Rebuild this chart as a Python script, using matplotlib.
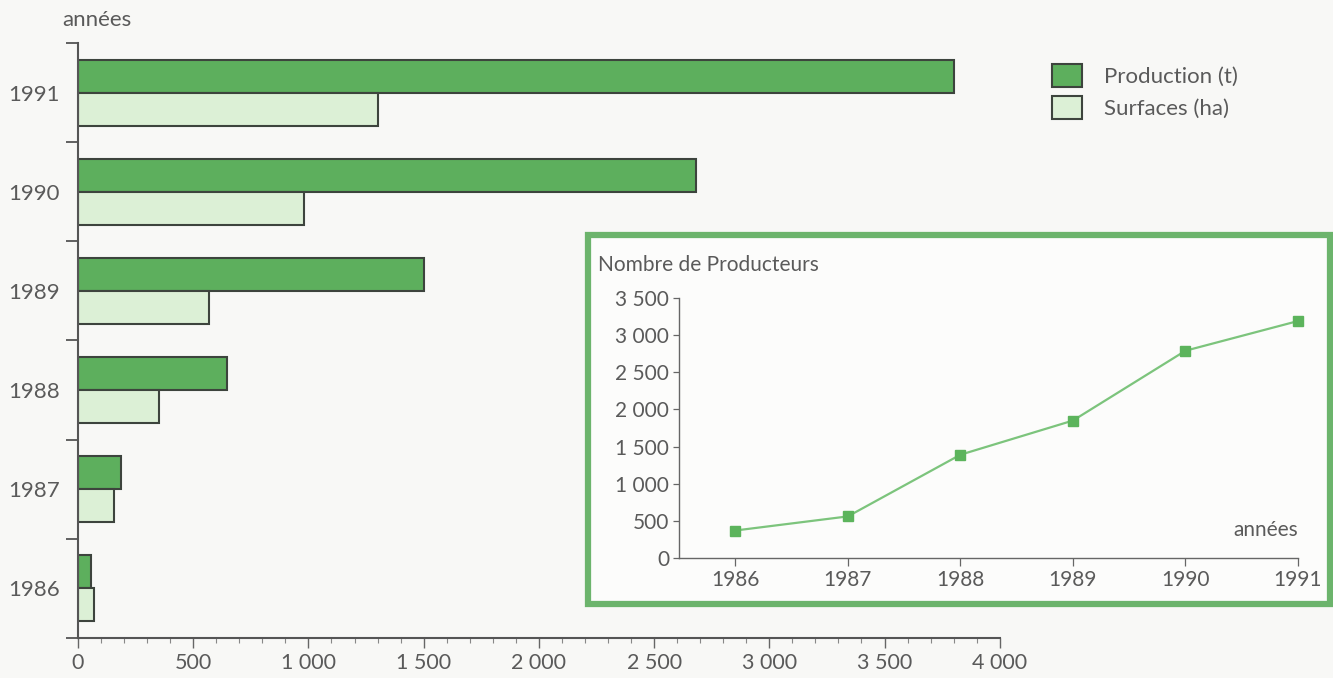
import matplotlib.pyplot as plt
import matplotlib.patches as mpatches
from matplotlib.ticker import FuncFormatter, MultipleLocator
import numpy as np

plt.rcParams['font.family'] = ['Lato', 'DejaVu Sans']

# main chart data
annees = [1986, 1987, 1988, 1989, 1990, 1991]
production_t = [55, 185, 645, 1500, 2680, 3800]
surfaces_ha = [70, 155, 350, 570, 980, 1300]

# inset: number of producers
annees_prod = [1986, 1987, 1988, 1989, 1990, 1991]
nb_producteurs = [370, 560, 1390, 1850, 2790, 3190]

dark_green = '#5daf5d'
light_green = '#dcf0d6'
edge = '#3d443d'
txt = '#5a5a5a'
bg = '#f8f8f6'


def fmt_space(v, pos=None):
    return f"{int(v):,}".replace(",", " ")


fig = plt.figure(figsize=(13.33, 6.78), dpi=100)
fig.patch.set_facecolor(bg)

ax = fig.add_axes([0.0585, 0.059, 0.6915, 0.8776])
ax.set_facecolor('none')

ypos = np.arange(len(annees)) + 0.5
h = 0.333
ax.barh(ypos + h / 2, production_t, height=h, color=dark_green,
        edgecolor=edge, linewidth=1.5, label='Production (t)')
ax.barh(ypos - h / 2, surfaces_ha, height=h, color=light_green,
        edgecolor=edge, linewidth=1.5, label='Surfaces (ha)')

ax.set_xlim(0, 4000)
ax.set_ylim(0, len(annees))
ax.set_yticks(ypos)
ax.set_yticklabels([str(a) for a in annees])
ax.set_yticks(np.arange(len(annees) + 1), minor=True)
ax.tick_params(axis='y', which='major', length=0, pad=13, labelsize=16, labelcolor=txt)
ax.tick_params(axis='y', which='minor', length=9, width=1.3, color='#555555', direction='out')

ax.xaxis.set_major_locator(MultipleLocator(500))
ax.xaxis.set_minor_locator(MultipleLocator(100))
ax.xaxis.set_major_formatter(FuncFormatter(fmt_space))
ax.tick_params(axis='x', which='major', length=7, width=1.0, color='#666666',
               pad=4, labelsize=15.5, labelcolor=txt)
ax.tick_params(axis='x', which='minor', length=3.5, width=0.8, color='#888888')

for s in ['top', 'right']:
    ax.spines[s].set_visible(False)
for s in ['left', 'bottom']:
    ax.spines[s].set_color('#555555')
    ax.spines[s].set_linewidth(1.5)

fig.text(62 / 1333, 1 - 20 / 678, 'années', fontsize=16, color=txt, va='center', ha='left')

leg = fig.legend(handles=[
    mpatches.Patch(facecolor=dark_green, edgecolor=edge, linewidth=1.5, label='Production (t)'),
    mpatches.Patch(facecolor=light_green, edgecolor=edge, linewidth=1.5, label='Surfaces (ha)')],
    loc='upper left', bbox_to_anchor=(1032 / 1333, 1 - 44 / 678), frameon=False,
    fontsize=16, handlelength=1.35, handleheight=1.2, labelspacing=0.4, handletextpad=1.0)
for t in leg.get_texts():
    t.set_color(txt)

# inset frame
frame = mpatches.Rectangle((588 / 1333, 1 - 604 / 678), (1330 - 588) / 1333, (604 - 235) / 678,
                           transform=fig.transFigure, facecolor='#fcfcfb',
                           edgecolor='#6cb46c', linewidth=4.5, zorder=2)
fig.patches.append(frame)

ax2 = fig.add_axes([679 / 1333, 1 - 558 / 678, (1298 - 679) / 1333, 260 / 678], zorder=3)
ax2.set_facecolor('none')
ax2.plot(annees_prod, nb_producteurs, color='#7cc47c', linewidth=1.6, clip_on=False,
         marker='s', markersize=7, markerfacecolor='#5cb45c', markeredgecolor='#5cb45c')
ax2.set_xlim(1985.5, 1991)
ax2.set_ylim(0, 3500)
ax2.set_xticks(annees_prod)
ax2.yaxis.set_major_locator(MultipleLocator(500))
ax2.yaxis.set_major_formatter(FuncFormatter(fmt_space))
ax2.tick_params(axis='x', length=6, width=0.9, color='#666666', pad=3,
                labelsize=15, labelcolor=txt)
ax2.tick_params(axis='y', length=4, width=0.9, color='#666666', pad=3,
                labelsize=15, labelcolor=txt)
for s in ['top', 'right']:
    ax2.spines[s].set_visible(False)
for s in ['left', 'bottom']:
    ax2.spines[s].set_color('#666666')
    ax2.spines[s].set_linewidth(1.0)
ax2.text(1.0, 0.07, 'années', transform=ax2.transAxes, ha='right', va='bottom',
         fontsize=15, color=txt)
fig.text(598 / 1333, 1 - 265 / 678, 'Nombre de Producteurs', fontsize=15, color=txt,
         va='center', ha='left', zorder=4)

plt.savefig('out.png', dpi=100, facecolor=fig.get_facecolor())
